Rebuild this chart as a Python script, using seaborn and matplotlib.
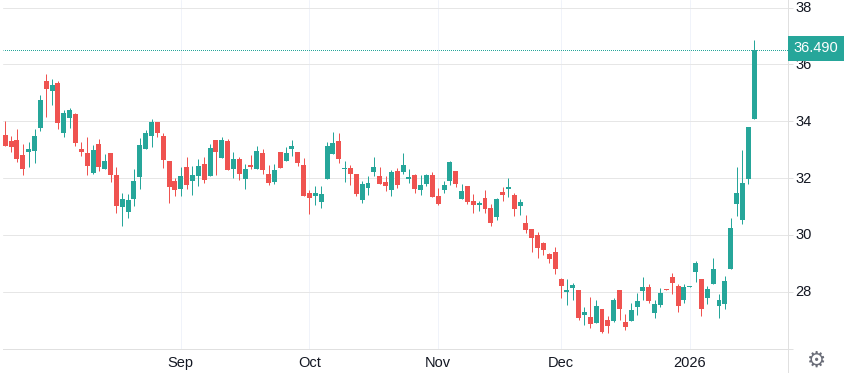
import seaborn as sns
import pandas as pd
import matplotlib.pyplot as plt
from matplotlib.patches import Rectangle
from matplotlib.transforms import ScaledTranslation

#Candle values, one per trading day
opens = [33.51,33.30,33.33,32.81,32.91,32.95,33.76,35.41,35.06,35.34,
33.58,34.11,34.25,33.02,32.88,32.17,33.19,32.31,32.88,32.10,
30.98,30.80,31.26,32.03,33.02,33.48,33.97,33.48,32.60,31.89,
31.61,32.38,31.89,32.07,32.49,32.07,33.34,32.70,33.30,32.31,
32.67,31.96,32.45,32.31,32.88,32.14,31.86,32.91,32.60,33.02,
32.91,32.45,31.47,31.36,31.15,31.96,32.84,33.30,32.31,32.35,
32.14,31.22,31.64,32.21,32.07,31.86,31.57,32.24,32.21,31.96,
32.10,31.57,31.79,32.10,31.36,31.57,31.89,32.24,31.26,31.72,
31.19,31.05,31.29,30.94,30.62,31.50,31.61,31.40,31.01,30.41,
30.20,29.99,29.71,29.32,29.39,28.44,27.98,28.12,28.05,27.17,
27.10,26.89,27.38,27.00,26.96,28.05,26.93,26.96,27.45,28.02,
28.16,27.24,27.52,28.09,28.51,28.19,27.70,28.16,28.69,28.44,
27.77,28.26,27.49,27.56,28.79,31.08,30.52,31.96,34.07]
closes = [33.12,33.09,32.67,32.31,33.02,33.48,34.74,35.13,35.27,33.93,
34.29,34.39,33.23,32.91,32.42,32.98,32.38,32.60,32.10,31.01,
31.26,31.22,31.89,33.16,33.58,33.97,33.58,32.63,31.68,31.57,
32.07,31.75,32.10,32.42,31.93,33.05,32.91,33.34,32.28,32.67,
32.14,32.31,32.38,32.95,32.28,31.82,32.28,32.35,32.88,33.12,
32.53,31.36,31.29,31.47,31.43,33.12,33.23,32.67,32.35,32.14,
31.43,31.79,31.82,32.38,31.79,31.72,32.21,31.75,32.45,32.03,
31.61,31.75,32.10,31.33,31.08,31.75,32.56,31.79,31.54,31.15,
31.05,31.12,30.91,30.41,31.26,31.40,31.68,30.91,31.15,30.17,
29.88,29.53,29.46,29.15,28.79,28.19,28.05,28.23,27.07,27.28,
26.86,27.49,26.57,26.79,27.70,27.38,26.75,27.35,27.67,28.16,
27.67,27.56,27.95,28.05,28.30,27.49,28.16,28.19,29.00,27.38,
28.09,28.79,27.70,28.37,30.24,31.47,31.82,33.79,36.49]
highs = [34.00,33.48,33.72,33.19,33.26,33.72,34.92,35.66,35.48,35.41,
34.39,34.46,34.29,33.26,33.44,33.16,33.37,32.84,32.88,32.38,
31.47,31.43,32.31,33.41,33.69,34.07,33.97,33.58,32.60,32.00,
32.38,32.74,32.42,32.67,32.74,33.19,33.34,33.44,33.37,32.91,
32.74,32.49,32.81,33.12,33.02,32.45,32.49,32.91,33.09,33.34,
32.91,32.70,31.57,31.72,31.72,33.26,33.62,33.58,32.60,32.45,
32.14,31.89,32.07,32.74,32.38,32.07,32.28,32.35,32.88,32.31,
32.14,32.10,32.14,32.21,31.65,31.89,32.60,32.24,31.79,31.72,
31.43,31.19,31.57,31.08,31.29,31.68,32.00,31.47,31.26,30.69,
30.20,30.10,29.74,29.36,29.57,28.48,28.44,28.30,28.05,27.46,
27.81,27.70,27.38,27.14,27.77,28.05,27.21,27.60,27.95,28.51,
28.26,27.70,28.12,28.09,28.65,28.26,28.26,28.19,29.07,28.44,
28.19,29.18,27.91,28.55,30.59,32.38,32.98,33.79,36.86]
lows = [33.12,32.91,32.56,32.10,32.38,32.52,33.65,34.14,34.57,33.72,
33.44,33.76,33.12,32.77,32.10,32.14,32.24,32.31,31.86,30.76,
30.31,30.59,31.01,31.61,33.02,33.09,33.44,32.35,31.12,31.36,
31.36,31.61,31.40,31.71,31.82,32.07,32.10,32.70,32.28,32.00,
31.93,31.61,32.31,32.31,32.14,31.75,31.79,32.35,32.60,32.77,
32.42,31.36,30.73,31.05,30.94,31.96,32.84,32.53,31.86,31.75,
31.36,31.12,31.40,32.07,31.79,31.54,31.36,31.64,32.14,31.82,
31.47,31.40,31.72,31.33,31.05,31.47,31.75,31.68,31.26,31.08,
30.76,30.83,30.76,30.31,30.52,31.19,31.33,30.66,30.69,30.06,
29.39,29.18,29.29,29.00,28.62,27.77,27.53,27.70,27.00,26.82,
26.71,26.89,26.54,26.54,26.93,27.00,26.64,26.96,27.17,27.70,
27.60,27.07,27.45,28.05,27.91,27.28,27.60,28.16,28.33,27.14,
27.56,28.26,27.07,27.38,28.79,30.66,30.38,31.79,34.07]

month_pos = [30, 52, 74, 95, 117]
month_labels = ["Sep", "Oct", "Nov", "Dec", "2026"]
price_ticks = [26, 28, 30, 32, 34, 36, 38]
price_labels = ["", "28", "30", "32", "34", "36", "38"]
last_price = 36.49

up_color = "#26a69a"
down_color = "#ef5350"
text_color = "#131722"

df = pd.DataFrame({"open": opens, "close": closes, "high": highs, "low": lows})
df["day"] = df.index
df["up"] = df["close"] >= df["open"]
df["base"] = df[["open", "close"]].min(axis=1)
df["body"] = (df["close"] - df["open"]).abs()

sns.set_style("white")
plt.rcParams["font.family"] = ["Liberation Sans", "DejaVu Sans"]
plt.rcParams["font.size"] = 10.5

fig = plt.figure(figsize=(8.44, 3.73), dpi=100)
ax = fig.add_axes([3 / 844, 24.5 / 373, 784.5 / 844, 348.5 / 373])

#Wicks then bodies
for is_up, color in [(True, up_color), (False, down_color)]:
    part = df[df["up"] == is_up].reset_index(drop=True)
    ax.vlines(part["day"], part["low"], part["high"], color=color, lw=0.72, zorder=3)
    sns.barplot(data=part, x="day", y="body", bottom=part["base"].values, color=color,
                native_scale=True, errorbar=None, saturation=1, width=0.85,
                linewidth=0, ax=ax, zorder=4)

ax.set_xlim(-0.39, 133.71)
ax.set_ylim(26.0, 38.264)
ax.set_xlabel("")
ax.set_ylabel("")

ax.set_xticks(month_pos)
ax.set_xticklabels(month_labels, color=text_color)
ax.set_yticks(price_ticks)
ax.set_yticklabels(price_labels, color=text_color)
ax.yaxis.tick_right()
ax.tick_params(axis="x", length=0, pad=5.5)
ax.tick_params(axis="y", length=3.6, width=0.72, color="#e0e0e0", pad=1.8, right=True, left=False)

#Price labels sit a pixel above their grid lines
up_1px = ScaledTranslation(0, 1 / 100, fig.dpi_scale_trans)
for lab in ax.get_yticklabels():
    lab.set_transform(lab.get_transform() + up_1px)

ax.set_axisbelow(True)
ax.grid(axis="y", color="#e6e6e6", lw=0.72)
ax.grid(axis="x", color="#f0f3fa", lw=0.72)

for side in ["top", "left"]:
    ax.spines[side].set_visible(False)
for side in ["right", "bottom"]:
    ax.spines[side].set_color("#e0e0e0")
    ax.spines[side].set_linewidth(0.72)

#Right scale runs on to the foot of the picture
ax.plot([1, 1], [0, -0.08], transform=ax.transAxes, color="#e0e0e0", lw=0.72, clip_on=False)

#Last price line and label
ax.axhline(last_price, color=up_color, lw=0.72, ls=(0.5, (1, 1)), zorder=2,
           dash_capstyle="butt")
trans = ax.get_yaxis_transform()
ax.add_patch(Rectangle((1.0006, last_price - 0.37), 0.0715, 0.89, transform=trans,
                       facecolor=up_color, edgecolor="none", clip_on=False, zorder=10))
ax.text(1.036, last_price + 0.07, "36.490", transform=trans, color="white", ha="center",
        va="center", zorder=11, clip_on=False)

#Settings icon
fig.text(817 / 844, 12 / 373, "\u2699", family="DejaVu Sans", fontsize=15.5, color="#6a6d78",
         ha="center", va="center")

fig.savefig("out.png", dpi=100)
